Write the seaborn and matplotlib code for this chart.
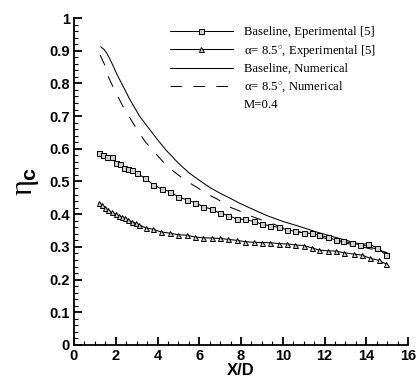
import numpy as np
import pandas as pd
import matplotlib
matplotlib.use("Agg")
import matplotlib.pyplot as plt
from matplotlib.lines import Line2D
from matplotlib.ticker import MultipleLocator
import seaborn as sns

# ---- data ----
base_exp_x = [1.2, 1.4, 1.6, 1.8, 2.0, 2.2, 2.4, 2.6, 2.8, 3.0, 3.4, 3.8, 4.2, 4.6, 5.0, 5.4, 5.8,
              6.2, 6.6, 7.0, 7.4, 7.8, 8.2, 8.6, 9.0, 9.4, 9.8, 10.2, 10.6, 11.0, 11.4, 11.75,
              12.15, 12.55, 12.9, 13.3, 13.7, 14.1, 14.5, 14.95]
base_exp_y = [0.586, 0.581, 0.576, 0.574, 0.557, 0.554, 0.542, 0.539, 0.536, 0.526, 0.510, 0.490,
              0.477, 0.469, 0.453, 0.444, 0.435, 0.423, 0.415, 0.403, 0.396, 0.385, 0.384, 0.378,
              0.370, 0.364, 0.360, 0.352, 0.348, 0.343, 0.341, 0.337, 0.329, 0.321, 0.317, 0.312,
              0.307, 0.310, 0.297, 0.276]

alpha_exp_x = [1.2, 1.35, 1.5, 1.65, 1.8, 2.0, 2.15, 2.3, 2.45, 2.6, 2.8, 2.95, 3.1, 3.45, 3.8,
               4.15, 4.6, 5.0, 5.4, 5.8, 6.2, 6.6, 7.0, 7.4, 7.8, 8.2, 8.6, 9.0, 9.4, 9.8, 10.2,
               10.6, 11.0, 11.4, 11.75, 12.15, 12.55, 12.95, 13.4, 13.8, 14.2, 14.6, 14.95]
alpha_exp_y = [0.435, 0.427, 0.420, 0.412, 0.406, 0.400, 0.395, 0.391, 0.387, 0.382, 0.376, 0.372,
               0.368, 0.358, 0.354, 0.346, 0.342, 0.337, 0.336, 0.330, 0.328, 0.327, 0.326, 0.323,
               0.320, 0.316, 0.314, 0.313, 0.313, 0.310, 0.309, 0.306, 0.304, 0.297, 0.290, 0.288,
               0.287, 0.282, 0.278, 0.275, 0.265, 0.259, 0.248]

base_num_x = [1.28, 1.45, 1.57, 1.70, 1.82, 2.04, 2.36, 2.68, 3.16, 3.64, 4.0, 4.41, 5.0, 5.5,
              6.04, 6.5, 7.0, 7.5, 7.95, 8.6, 9.23, 10.0, 10.83, 11.6, 12.42, 13.5, 14.3, 15.0]
base_num_y = [0.912, 0.903, 0.892, 0.877, 0.861, 0.830, 0.790, 0.750, 0.698, 0.658, 0.628, 0.596,
              0.556, 0.527, 0.502, 0.482, 0.464, 0.448, 0.433, 0.414, 0.396, 0.378, 0.362, 0.346,
              0.331, 0.312, 0.297, 0.282]

alpha_num_x = [1.25, 1.49, 1.66, 1.88, 2.14, 2.40, 2.72, 3.03, 3.42, 3.80, 4.31, 4.79, 5.37, 5.84,
               6.36, 6.87, 7.41, 7.89, 8.40, 8.91, 9.5, 10.0, 11.0, 12.0, 13.0, 14.0, 15.0]
alpha_num_y = [0.887, 0.854, 0.818, 0.788, 0.755, 0.723, 0.690, 0.658, 0.621, 0.594, 0.557, 0.530,
               0.502, 0.484, 0.462, 0.446, 0.423, 0.411, 0.396, 0.384, 0.371, 0.359, 0.342, 0.327,
               0.312, 0.297, 0.282]

labels = ["Baseline, Eperimental [5]",
          r"$\alpha$= 8.5$^{\circ}$, Experimental [5]",
          "Baseline, Numerical",
          r"$\alpha$= 8.5$^{\circ}$, Numerical",
          "M=0.4"]

sns.set_theme(style="ticks")
plt.rcParams['font.family'] = ['Liberation Sans', 'DejaVu Sans']
plt.rcParams['mathtext.fontset'] = 'custom'
plt.rcParams['mathtext.rm'] = 'Liberation Serif'
plt.rcParams['mathtext.it'] = 'Liberation Serif'
plt.rcParams['mathtext.bf'] = 'Liberation Sans:bold'

W, H = 418, 379
fig = plt.figure(figsize=(W / 100, H / 100), dpi=100)
ax = fig.add_axes([74 / W, 1 - 345 / H, (408 - 74) / W, (345 - 18) / H])

lw = 0.75
ms = 3.6
dash = (0, (11, 11))
mk = dict(markersize=ms, markerfacecolor="#d0d0d0", markeredgecolor="black", markeredgewidth=0.7)
sns.lineplot(x=base_num_x, y=base_num_y, ax=ax, color="black", lw=lw, sort=False, estimator=None)
sns.lineplot(x=alpha_num_x, y=alpha_num_y, ax=ax, color="black", lw=lw, sort=False, estimator=None,
             linestyle=dash)
sns.lineplot(x=base_exp_x, y=base_exp_y, ax=ax, color="black", lw=lw, sort=False, estimator=None,
             marker="s", **mk)
sns.lineplot(x=alpha_exp_x, y=alpha_exp_y, ax=ax, color="black", lw=lw, sort=False, estimator=None,
             marker="^", **mk)

ax.set_xlim(0, 16)
ax.set_ylim(0, 1)
ax.xaxis.set_major_locator(MultipleLocator(2))
ax.xaxis.set_minor_locator(MultipleLocator(0.5))
ax.yaxis.set_major_locator(MultipleLocator(0.1))
ax.yaxis.set_minor_locator(MultipleLocator(0.02))
ax.set_xticklabels([f"{v:g}" for v in ax.get_xticks()])
ax.set_yticklabels([f"{v:g}" for v in ax.get_yticks()])
for s in ["top", "right"]:
    ax.spines[s].set_visible(False)
for s in ["left", "bottom"]:
    ax.spines[s].set_linewidth(1.3)
    ax.spines[s].set_color("black")
ax.tick_params(which="major", direction="in", length=6, width=1.3, color="black", pad=3)
ax.tick_params(which="minor", direction="in", length=3, width=0.8, color="black")
for t in ax.get_xticklabels() + ax.get_yticklabels():
    t.set_fontweight("bold")
    t.set_fontsize(10.5)
    t.set_color("black")

ax.set_xlabel("X/D", fontsize=12, fontweight="bold", labelpad=0, color="black")
ax.set_ylabel(r"$\eta_{\mathbf{c}}$", fontsize=22, labelpad=6, color="black")

handles = [
    Line2D([], [], color="black", lw=lw, marker="s", **mk),
    Line2D([], [], color="black", lw=lw, marker="^", **mk),
    Line2D([], [], color="black", lw=lw),
    Line2D([], [], color="black", lw=lw, linestyle=dash),
    Line2D([], [], color="none", lw=0),
]
leg = fig.legend(handles, labels, loc="upper left", bbox_to_anchor=(170 / W, 1 - 26 / H),
                 frameon=False, borderaxespad=0, borderpad=0, handlelength=4.9,
                 handletextpad=0.9, labelspacing=0.36, markerscale=1.0,
                 prop={"family": "Liberation Serif", "size": 9.2})
for t in leg.get_texts():
    t.set_color("black")

fig.savefig("out.png", dpi=100)
